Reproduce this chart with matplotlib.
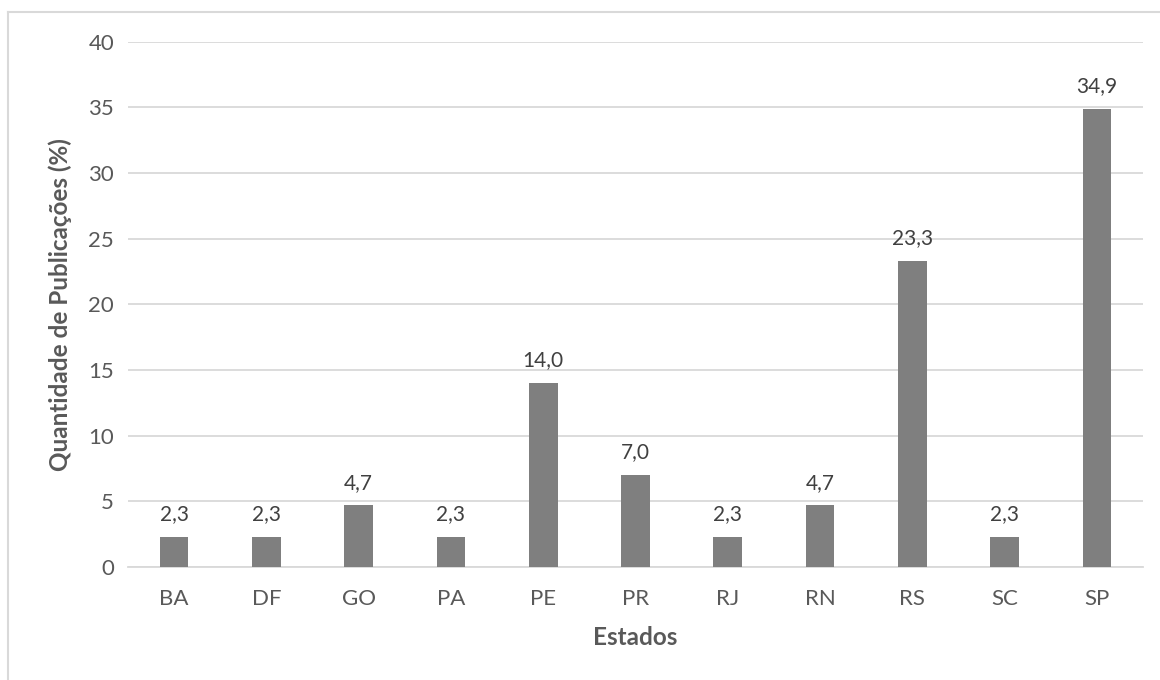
import matplotlib.pyplot as plt
from matplotlib.lines import Line2D

# Share of publications per state (%)
estados = ['BA', 'DF', 'GO', 'PA', 'PE', 'PR', 'RJ', 'RN', 'RS', 'SC', 'SP']
percentuais = [2.3, 2.3, 4.7, 2.3, 14.0, 7.0, 2.3, 4.7, 23.3, 2.3, 34.9]
y_ticks = [0, 5, 10, 15, 20, 25, 30, 35, 40]

plt.rcParams['font.family'] = ['Lato', 'DejaVu Sans']

text_color = '#595959'
grid_color = '#D9D9D9'
bar_color = '#7F7F7F'

fig = plt.figure(figsize=(11.6, 6.8), dpi=100)
ax = fig.add_axes([128 / 1160, 1 - 567 / 680, (1143 - 128) / 1160, (567 - 41.5) / 680])

x = range(len(estados))
bars = ax.bar(x, percentuais, width=0.31, color=bar_color, zorder=3)

# value labels with comma as decimal separator
for rect, val in zip(bars, percentuais):
    ax.annotate(f'{val:.1f}'.replace('.', ','),
                (rect.get_x() + rect.get_width() / 2, rect.get_height()),
                xytext=(0, 9), textcoords='offset points',
                ha='center', va='bottom', fontsize=15, color='#404040')

ax.set_xlim(-0.5, len(estados) - 0.5)
ax.set_ylim(0, 40)
ax.set_yticks(y_ticks)
ax.set_xticks(list(x))
ax.set_xticklabels(estados)
ax.grid(axis='y', color=grid_color, linewidth=1.3, zorder=0)
ax.tick_params(length=0, labelsize=16, labelcolor=text_color)
ax.tick_params(axis='x', pad=16)
ax.tick_params(axis='y', pad=10)
for side in ['top', 'right', 'left']:
    ax.spines[side].set_visible(False)
ax.spines['bottom'].set_color(grid_color)
ax.spines['bottom'].set_linewidth(1.3)

ax.set_xlabel('Estados', fontsize=17.5, fontweight='bold', color=text_color, labelpad=12)
ax.set_ylabel('Quantidade de Publicações (%)', fontsize=17.5, fontweight='bold',
              color=text_color, labelpad=12)

# chart area outline (left and top edges)
fig.add_artist(Line2D([7.5 / 1160, 7.5 / 1160], [0, 1 - 12 / 680], color=grid_color, linewidth=1.5))
fig.add_artist(Line2D([7.5 / 1160, 1], [1 - 12 / 680, 1 - 12 / 680], color=grid_color, linewidth=1.5))

fig.savefig('out.png', dpi=100)
